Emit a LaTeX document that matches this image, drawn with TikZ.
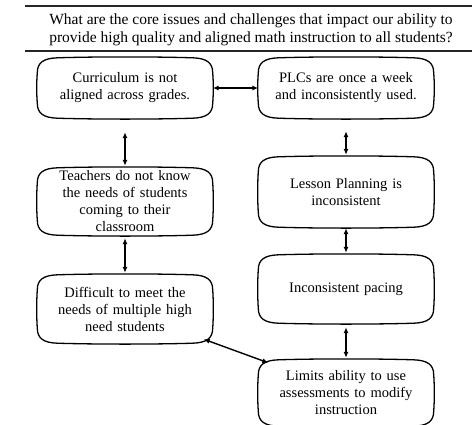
\documentclass[tikz,border=0pt]{standalone}
\usepackage{fontspec}
\setmainfont{Liberation Serif}
\usetikzlibrary{arrows.meta,calc}
\begin{document}
\begin{tikzpicture}[x=1pt,y=-1pt,
  issue/.style={minimum width=175pt, text width=170pt, align=center,
    font=\fontsize{14.5}{17}\selectfont, inner sep=0pt},
  outline/.style={line width=1.3pt},
  link/.style={line width=1.4pt, {Latex[length=6pt,width=5pt]}-{Latex[length=6pt,width=5pt]}},
  rule/.style={line width=1.8pt, draw=black!85}]
\useasboundingbox (0,0) rectangle (472,424);
% heading between two rules
\draw[rule] (25,6) -- (472,6);
\draw[rule] (25,51) -- (472,51);
\node[font=\fontsize{15.5}{18}\selectfont, align=center] (title) at (251,30)
  {What are the core issues and challenges that impact our ability to\\
   provide high quality and aligned math instruction to all students?};
% left column
\node[issue, minimum height=60pt] (cur) at (125,88) {Curriculum is not\\aligned across grades.};
\node[issue, minimum height=67pt] (tea) at (125,201.5) {Teachers do not know\\the needs of students\\coming to their\\classroom};
\node[issue, minimum height=68pt] (dif) at (125,309) {Difficult to meet the\\needs of multiple high\\need students};
% right column
\node[issue, minimum height=60pt] (plc) at (346,88) {PLCs are once a week\\and inconsistently used.};
\node[issue, minimum height=70pt] (les) at (346,192) {Lesson Planning is\\inconsistent};
\node[issue, minimum height=68pt] (pac) at (346,289) {Inconsistent pacing};
\node[issue, minimum height=66pt] (lim) at (346,393) {Limits ability to use\\assessments to modify\\instruction};
% soft box outlines: slightly bowed long edges, wide rounded corners
\foreach \b in {cur,tea,dif,plc,les,pac,lim}{
  \draw[outline] let \p1=(\b.north west), \p2=(\b.south east) in
    (\x1+20pt,\y1) .. controls (\x1+60pt,\y1+1.2pt) and (\x2-60pt,\y1+1.2pt) .. (\x2-20pt,\y1)
    .. controls (\x2-6pt,\y1-0.5pt) and (\x2,\y1-5pt) .. (\x2,\y1-15pt)
    .. controls (\x2+0.8pt,\y1-25pt) and (\x2+0.8pt,\y2+25pt) .. (\x2,\y2+15pt)
    .. controls (\x2,\y2+5pt) and (\x2-6pt,\y2+0.5pt) .. (\x2-20pt,\y2)
    .. controls (\x2-60pt,\y2-1.2pt) and (\x1+60pt,\y2-1.2pt) .. (\x1+20pt,\y2)
    .. controls (\x1+6pt,\y2+0.5pt) and (\x1,\y2+5pt) .. (\x1,\y2+15pt)
    .. controls (\x1-0.8pt,\y2+25pt) and (\x1-0.8pt,\y1-25pt) .. (\x1,\y1-15pt)
    .. controls (\x1,\y1-5pt) and (\x1+6pt,\y1-0.5pt) .. cycle;
}
% connections
\draw[link] (cur.east) -- (plc.west);
\draw[link, shorten <=14pt, shorten >=2pt] (cur.south) -- (tea.north);
\draw[link, shorten <=3pt, shorten >=2pt] (tea.south) -- (dif.north);
\draw[link, shorten <=13pt, shorten >=2pt] (plc.south) -- (les.north);
\draw[link, shorten <=1pt, shorten >=2pt] (les.south) -- (pac.north);
\draw[link, shorten <=4pt, shorten >=2pt] (pac.south) -- (lim.north);
\coordinate (difc) at ($(dif.south east)+(-9,-4)$);
\coordinate (limc) at ($(lim.north west)+(10,3)$);
\draw[link] (difc) -- (limc);
\end{tikzpicture}
\end{document}
